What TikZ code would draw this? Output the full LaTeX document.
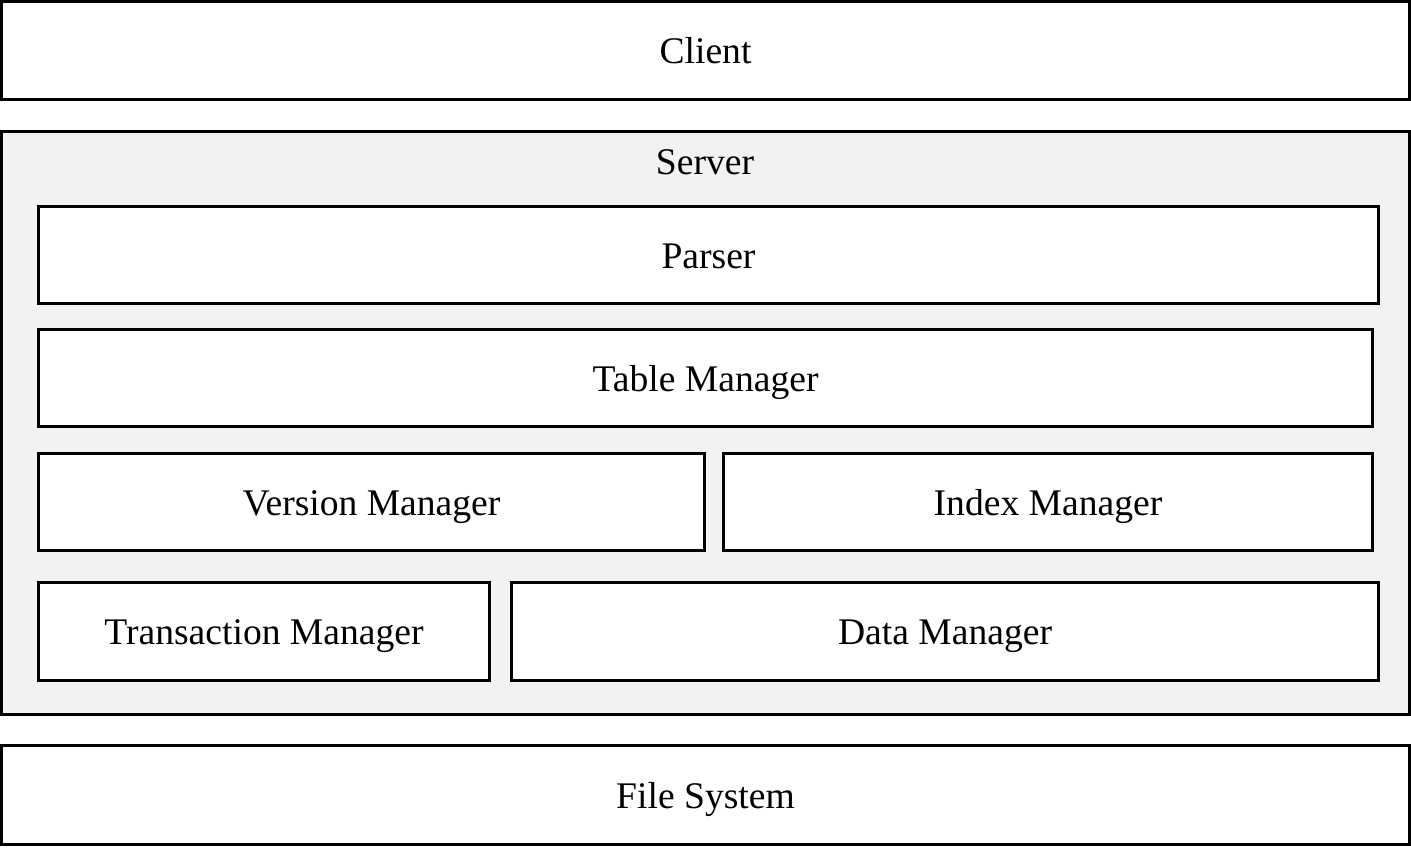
\documentclass[tikz,border=0pt]{standalone}
\usepackage{fontspec}
\setmainfont{Liberation Serif}
\definecolor{servergray}{HTML}{F2F2F2}

\begin{document}
\begin{tikzpicture}[x=0.75pt, y=-0.75pt,
  layer/.style={draw, line width=2.2pt, inner sep=0pt, outer sep=0pt, fill=white,
    text height=19.5pt, text depth=0pt, font=\fontsize{28.2}{33}\selectfont},
  size/.style 2 args={minimum width=#1*0.75pt, minimum height=#2*0.75pt}]
\useasboundingbox (0,0) rectangle (1411,847);

\node[layer, size={1408}{98}] (client) at (705.5,50.5) {Client};

\node[layer, fill=servergray, size={1408}{583}] (server) at (705.5,423) {};
\node[font=\fontsize{28.2}{33}\selectfont] (servertitle) at (705,162) {Server};

\node[layer, size={1340}{97}] (parser) at (708.5,255) {Parser};
\node[layer, size={1334}{97}] (table) at (705.5,378) {Table Manager};

\node[layer, size={666}{97}] (version) at (371.5,502) {Version Manager};
\node[layer, size={649}{97}] (index) at (1048,502) {Index Manager};

\node[layer, size={451}{98}] (transaction) at (264,631.5) {Transaction Manager};
\node[layer, size={867}{98}] (data) at (945,631.5) {Data Manager};

\node[layer, size={1408}{99}] (filesystem) at (705.5,795) {File System};
\end{tikzpicture}
\end{document}
